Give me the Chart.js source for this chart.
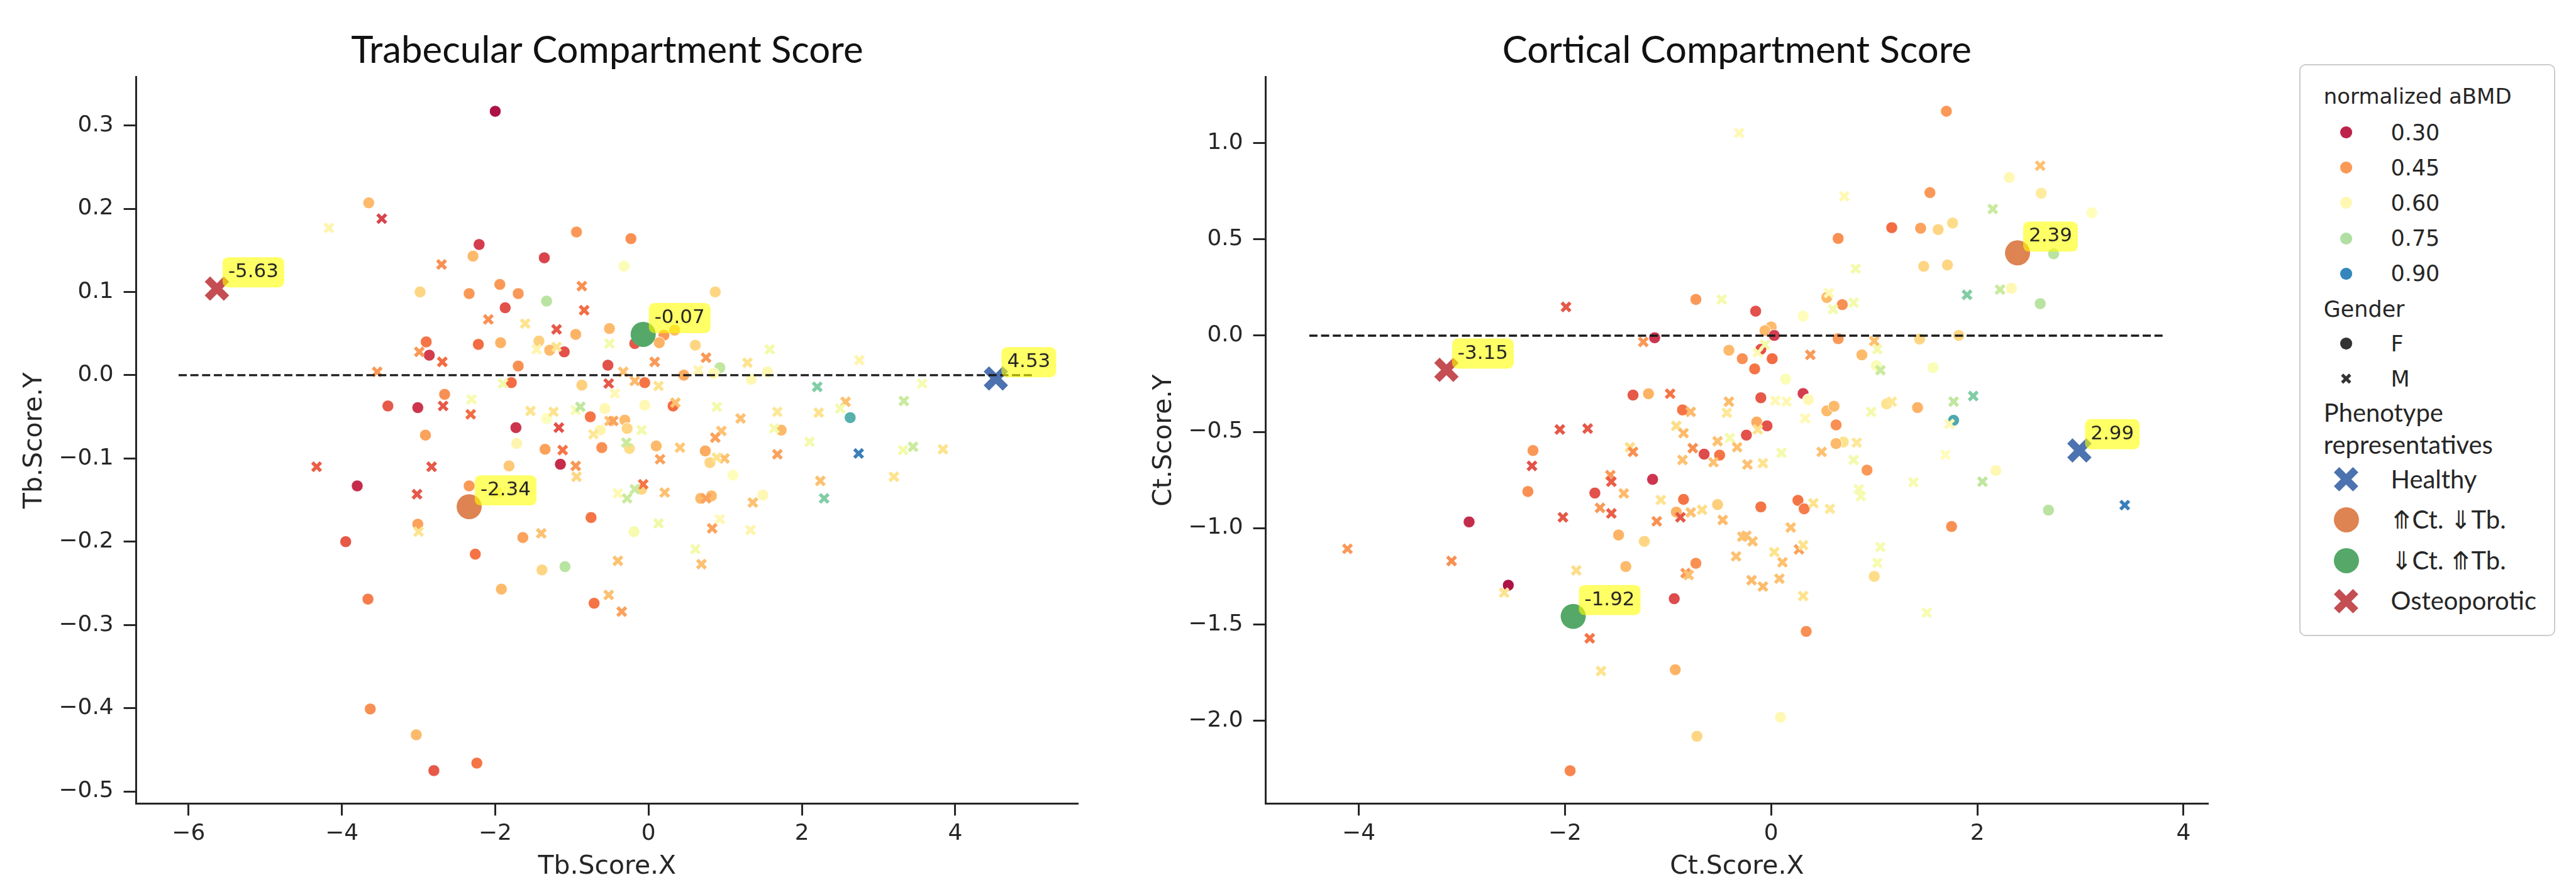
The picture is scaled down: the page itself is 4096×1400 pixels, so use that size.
<!DOCTYPE html>
<html>
<head>
<meta charset="utf-8">
<script src="https://cdn.jsdelivr.net/npm/chart.js@4.4.0/dist/chart.umd.min.js"></script>
<style>
  html, body { margin: 0; padding: 0; background: #fff; overflow: hidden; }
  #wrap { position: relative; width: 4096px; height: 1400px; }
  canvas { position: absolute; top: 0; }
  .lg { position: absolute; white-space: nowrap; line-height: 1; color: #262626; transform: translateY(-50%); }
</style>
</head>
<body>
<div id="wrap">
  <canvas id="tb"></canvas>
  <canvas id="ct"></canvas>
  <div id="legend"></div>
</div>
<script>
// reference is 4104x1403, window is 4096x1400
const S = 4096 / 4104;
const px = v => v * S;
const ink = '#262626';

// ---------- Trabecular panel ----------
// women (circles)
const tbFx = [-2.00,-3.65,-2.21,-2.29,-2.98,-2.34,-1.94,-1.70,-1.87,-1.36,
  -0.94,-1.33,-0.95,-0.51,-2.90,-2.86,-2.22,-1.93,-1.43,-1.29,
  -1.10,-1.70,-0.53,-1.79,-0.87,-2.66,-3.40,-3.01,-1.33,-0.76,
  -0.57,-1.73,-1.72,-2.91,-1.35,-1.15,-0.63,-0.61,-1.82,-3.80,
  -2.34,-3.01,-3.95,-0.75,-1.64,-2.26,-1.39,-1.09,-1.92,-0.71,
  -3.66,-3.63,-3.03,-2.80,-2.24,-0.23,-0.32,0.87,0.20,0.34,
  0.14,-0.18,0.61,0.93,0.85,1.55,1.34,0.46,-0.05,-0.05,
  0.32,2.63,-0.31,-0.28,1.73,-0.25,0.10,0.74,0.80,1.10,
  -0.09,0.68,0.82,1.49,-0.19];
const tbFy = [0.317,0.207,0.157,0.143,0.100,0.098,0.109,0.098,0.081,0.141,
  0.172,0.089,0.049,0.056,0.040,0.024,0.037,0.039,0.041,0.030,
  0.028,0.011,0.012,-0.009,-0.012,-0.023,-0.037,-0.039,-0.052,-0.050,
  -0.040,-0.063,-0.082,-0.072,-0.089,-0.107,-0.066,-0.087,-0.109,-0.133,
  -0.133,-0.179,-0.200,-0.171,-0.195,-0.215,-0.234,-0.230,-0.257,-0.274,
  -0.269,-0.401,-0.432,-0.475,-0.466,0.164,0.131,0.100,0.048,0.054,
  0.039,0.038,0.036,0.009,0.002,0.004,-0.005,0.000,-0.009,-0.036,
  -0.037,-0.051,-0.054,-0.064,-0.066,-0.088,-0.085,-0.091,-0.105,-0.120,
  -0.137,-0.148,-0.145,-0.144,-0.188];
const tbFbmd = [0.28,0.49,0.33,0.49,0.53,0.45,0.45,0.45,0.36,0.34,
  0.45,0.74,0.48,0.49,0.41,0.33,0.40,0.48,0.52,0.49,
  0.36,0.44,0.36,0.40,0.52,0.44,0.37,0.32,0.62,0.41,
  0.60,0.32,0.59,0.46,0.46,0.31,0.59,0.44,0.51,0.31,
  0.45,0.46,0.37,0.41,0.46,0.41,0.53,0.74,0.49,0.41,
  0.42,0.44,0.49,0.37,0.41,0.44,0.63,0.53,0.45,0.49,
  0.48,0.37,0.53,0.73,0.60,0.60,0.60,0.47,0.41,0.60,
  0.40,0.85,0.49,0.53,0.49,0.54,0.49,0.47,0.53,0.62,
  0.53,0.49,0.49,0.60,0.64];
// men (crosses)
const tbMx = [-4.17,-3.48,-2.70,-0.87,-0.84,-2.09,-1.61,-1.20,-0.51,-2.99,
  -2.69,-3.54,-1.46,-1.20,-1.90,-0.52,-2.68,-2.31,-2.32,-1.54,
  -1.24,-0.95,-0.89,-0.51,-1.17,-1.12,-0.95,-0.94,-0.72,-4.33,
  -2.83,-3.02,-1.98,-3.00,-1.40,-0.52,0.08,0.75,-0.33,0.65,
  1.29,1.58,-0.18,0.13,-0.44,0.35,0.89,2.20,2.75,3.57,
  2.57,2.50,3.33,2.22,1.68,1.20,-0.46,-0.09,0.95,1.64,
  0.87,-0.29,0.41,2.10,2.74,3.32,3.45,3.84,0.99,0.89,
  0.15,1.68,3.20,2.24,2.29,-0.07,-0.18,-0.40,-0.28,0.21,
  0.75,1.36,0.13,0.83,0.93,1.33,-0.40,0.61,0.69,-0.35];
const tbMy = [0.177,0.188,0.133,0.107,0.078,0.067,0.062,0.055,0.038,0.028,
  0.016,0.004,0.031,0.034,-0.010,-0.010,-0.037,-0.029,-0.047,-0.043,
  -0.044,-0.042,-0.038,-0.055,-0.063,-0.090,-0.109,-0.122,-0.071,-0.110,
  -0.110,-0.143,-0.141,-0.188,-0.190,-0.264,0.016,0.021,0.004,0.006,
  0.015,0.031,-0.007,-0.013,-0.022,-0.033,-0.038,-0.014,0.018,-0.010,
  -0.032,-0.040,-0.031,-0.045,-0.044,-0.052,-0.055,-0.066,-0.067,-0.064,
  -0.075,-0.081,-0.087,-0.080,-0.094,-0.090,-0.086,-0.089,-0.100,-0.099,
  -0.101,-0.095,-0.122,-0.127,-0.148,-0.131,-0.137,-0.142,-0.148,-0.141,
  -0.148,-0.153,-0.178,-0.184,-0.173,-0.186,-0.223,-0.209,-0.227,-0.284];
const tbMbmd = [0.59,0.34,0.44,0.44,0.40,0.44,0.55,0.37,0.65,0.45,
  0.40,0.45,0.59,0.55,0.65,0.37,0.37,0.64,0.40,0.55,
  0.55,0.64,0.73,0.50,0.36,0.41,0.45,0.53,0.56,0.38,
  0.37,0.37,0.55,0.55,0.50,0.50,0.45,0.45,0.50,0.59,
  0.55,0.65,0.49,0.55,0.60,0.50,0.65,0.80,0.59,0.64,
  0.50,0.65,0.72,0.55,0.56,0.50,0.46,0.65,0.50,0.65,
  0.46,0.72,0.51,0.65,0.91,0.65,0.72,0.55,0.50,0.55,
  0.46,0.46,0.55,0.50,0.80,0.41,0.72,0.60,0.72,0.50,
  0.46,0.50,0.66,0.46,0.60,0.59,0.50,0.65,0.50,0.46];

// ---------- Cortical panel ----------
const ctFx = [-0.73,-1.13,-0.41,-0.28,-1.34,-1.19,-0.86,-0.65,-0.50,-2.31,
  -1.15,-1.71,-2.36,-0.85,-0.92,-0.52,-2.93,-1.48,-1.23,-0.73,
  -1.41,-2.55,-0.94,-0.93,-0.72,-1.95,1.70,2.31,2.62,3.11,
  1.54,1.17,1.45,1.62,1.76,0.65,2.74,1.48,1.71,2.33,
  2.61,-0.15,0.31,0.54,0.69,0.00,-0.06,0.03,0.65,1.44,
  1.82,-0.10,0.01,-0.16,0.88,1.02,1.57,0.14,-0.10,0.31,
  0.36,0.54,0.61,0.63,1.12,1.42,1.77,-0.14,-0.04,-0.24,
  0.70,0.63,0.93,2.18,-0.10,0.26,0.32,2.69,1.75,1.00,
  0.34,0.09];
const ctFy = [0.188,-0.011,-0.076,-0.120,-0.309,-0.302,-0.386,-0.616,-0.621,-0.597,
  -0.747,-0.818,-0.810,-0.851,-0.917,-0.878,-0.968,-1.036,-1.069,-1.183,
  -1.200,-1.297,-1.367,-1.736,-2.082,-2.261,1.166,0.822,0.740,0.638,
  0.743,0.561,0.558,0.551,0.585,0.505,0.425,0.360,0.367,0.246,
  0.166,0.127,0.101,0.198,0.161,0.045,0.026,0.001,-0.016,-0.018,
  0.001,-0.071,-0.120,-0.173,-0.100,-0.156,-0.166,-0.226,-0.323,-0.301,
  -0.333,-0.391,-0.367,-0.464,-0.355,-0.374,-0.440,-0.449,-0.469,-0.517,
  -0.553,-0.561,-0.699,-0.701,-0.890,-0.856,-0.900,-0.907,-0.992,-1.251,
  -1.537,-1.983];
const ctFbmd = [0.45,0.32,0.49,0.44,0.37,0.48,0.41,0.35,0.41,0.45,
  0.32,0.36,0.44,0.41,0.48,0.52,0.31,0.48,0.53,0.44,
  0.49,0.28,0.35,0.48,0.53,0.43,0.45,0.60,0.57,0.61,
  0.45,0.40,0.46,0.53,0.54,0.44,0.74,0.53,0.53,0.60,
  0.74,0.36,0.61,0.49,0.44,0.49,0.49,0.33,0.45,0.53,
  0.53,0.36,0.40,0.41,0.49,0.63,0.63,0.63,0.37,0.33,
  0.60,0.49,0.49,0.44,0.55,0.48,0.86,0.47,0.36,0.36,
  0.55,0.49,0.45,0.60,0.41,0.41,0.42,0.74,0.44,0.54,
  0.44,0.60];
const ctMx = [-0.31,-0.48,-1.99,-1.24,-0.98,-0.78,-0.41,-0.43,-0.92,-0.85,
  -0.76,-0.52,-0.40,-0.33,-0.56,-0.86,-2.05,-1.78,-2.32,-1.37,
  -1.34,-1.56,-1.55,-1.43,-1.66,-1.55,-1.07,-0.88,-0.78,-0.67,
  -0.47,-1.11,-2.02,-4.11,-3.10,-0.83,-0.80,-0.34,-0.28,-1.89,
  -2.59,-1.76,-1.65,2.61,2.15,0.71,0.82,1.90,2.22,0.56,
  0.60,0.80,1.00,-0.06,-0.13,0.38,1.03,1.06,0.04,0.15,
  0.33,0.97,1.17,1.77,1.96,1.73,-0.13,0.83,0.49,0.10,
  0.80,-0.23,-0.08,1.69,2.05,1.38,0.85,0.87,0.41,0.57,
  3.43,0.19,-0.24,-0.18,0.03,0.27,0.31,0.11,1.06,1.03,
  -0.19,-0.08,0.08,0.31,1.51];
const ctMy = [1.053,0.188,0.149,-0.033,-0.302,-0.396,-0.343,-0.401,-0.469,-0.507,
  -0.585,-0.549,-0.532,-0.580,-0.658,-0.646,-0.488,-0.483,-0.677,-0.580,
  -0.604,-0.725,-0.759,-0.820,-0.895,-0.924,-0.854,-0.944,-0.919,-0.905,
  -0.958,-0.965,-0.944,-1.108,-1.171,-1.234,-1.244,-1.147,-1.045,-1.220,
  -1.336,-1.573,-1.743,0.883,0.658,0.723,0.348,0.212,0.239,0.222,
  0.137,0.171,-0.028,-0.047,-0.088,-0.100,-0.071,-0.180,-0.338,-0.343,
  -0.430,-0.396,-0.343,-0.343,-0.314,-0.459,-0.488,-0.556,-0.604,-0.609,
  -0.646,-0.670,-0.663,-0.619,-0.759,-0.762,-0.798,-0.835,-0.871,-0.900,
  -0.881,-0.997,-1.040,-1.069,-1.125,-1.111,-1.089,-1.178,-1.099,-1.181,
  -1.271,-1.304,-1.263,-1.353,-1.440];
const ctMbmd = [0.60,0.65,0.37,0.45,0.41,0.49,0.49,0.56,0.54,0.49,
  0.44,0.50,0.65,0.50,0.50,0.50,0.37,0.37,0.36,0.54,
  0.44,0.45,0.38,0.49,0.45,0.38,0.55,0.37,0.50,0.54,
  0.49,0.44,0.37,0.45,0.44,0.45,0.50,0.50,0.50,0.54,
  0.55,0.41,0.55,0.50,0.72,0.60,0.65,0.80,0.72,0.60,
  0.65,0.65,0.50,0.65,0.60,0.45,0.65,0.72,0.60,0.60,
  0.60,0.65,0.56,0.73,0.80,0.60,0.55,0.56,0.50,0.65,
  0.65,0.50,0.55,0.61,0.73,0.64,0.64,0.64,0.55,0.56,
  0.91,0.50,0.50,0.50,0.55,0.46,0.55,0.50,0.64,0.64,
  0.49,0.49,0.50,0.55,0.64];

// phenotype representatives
const phenoNames = ['Healthy', '\u290ACt. \u21D3Tb.', '\u21D3Ct. \u290ATb.', 'Osteoporotic'];
const phenoColors = ['#4c72b0', '#dd8452', '#55a868', '#c44e52'];
const phenoShapes = ['crossRot', 'circle', 'circle', 'crossRot'];
const tbPhenoX = [4.53, -2.34, -0.07, -5.63];
const tbPhenoY = [-0.004, -0.158, 0.049, 0.104];
const ctPhenoX = [2.99, 2.39, -1.92, -3.15];
const ctPhenoY = [-0.597, 0.430, -1.459, -0.178];

// zero reference lines
const tbDashX = [-6.13, 5.03];
const ctDashX = [-4.48, 3.81];

// ticks
const tbXTicks = [-6, -4, -2, 0, 2, 4];
const tbYTicks = [-0.5, -0.4, -0.3, -0.2, -0.1, 0.0, 0.1, 0.2, 0.3];
const ctXTicks = [-4, -2, 0, 2, 4];
const ctYTicks = [-2.0, -1.5, -1.0, -0.5, 0.0, 0.5, 1.0];

// legend
const bmdLegend = [0.30, 0.45, 0.60, 0.75, 0.90];
const genders = ['F', 'M'];

// hue normalisation of the Spectral palette
const bmdMin = 0.26, bmdMax = 0.97;
const spectral = ['#9e0142','#d53e4f','#f46d43','#fdae61','#fee08b','#ffffbf',
  '#e6f598','#abdda4','#66c2a5','#3288bd','#5e4fa2'];

function hex(h) { return [1, 3, 5].map(i => parseInt(h.substr(i, 2), 16)); }
function bmdColor(v) {
  let t = (v - bmdMin) / (bmdMax - bmdMin);
  t = Math.max(0, Math.min(1, t)) * 10;
  const i = Math.min(9, Math.floor(t)), f = t - i;
  const a = hex(spectral[i]), b = hex(spectral[i + 1]);
  const c = a.map((x, k) => Math.round(x + (b[k] - x) * f));
  return `rgb(${c[0]},${c[1]},${c[2]})`;
}

const fmtTick = (v, d) => (v < 0 ? '\u2212' : '') + Math.abs(v).toFixed(d);

// title + value tags
const panelDecor = {
  id: 'panelDecor',
  afterDatasetsDraw(chart, args, opts) {
    const ctx = chart.ctx, a = chart.chartArea;
    ctx.save();
    chart.data.datasets.forEach((ds, i) => {
      if (!ds.tag) return;
      const el = chart.getDatasetMeta(i).data[0];
      ctx.font = `${px(31)}px "DejaVu Sans"`;
      const h = px(48);
      const w = ctx.measureText(ds.tag).width + px(18);
      const bx = el.x + px(9), by = el.y - px(2) - h;
      ctx.fillStyle = 'rgba(255,255,0,0.6)';
      ctx.beginPath();
      ctx.roundRect(bx, by, w, h, px(9));
      ctx.fill();
      ctx.fillStyle = ink;
      ctx.textAlign = 'left';
      ctx.textBaseline = 'middle';
      ctx.fillText(ds.tag, bx + px(9), by + h / 2);
    });
    ctx.font = `${px(60)}px Lato`;
    ctx.fillStyle = '#111';
    ctx.textAlign = 'center';
    ctx.textBaseline = 'alphabetic';
    ctx.fillText(opts.text, (a.left + a.right) / 2, px(100));
    ctx.restore();
  }
};

function makePanel(id, p) {
  const canvas = document.getElementById(id);
  canvas.width = Math.round(px(p.canvasW));
  canvas.height = 1400;
  canvas.style.left = px(p.canvasLeft) + 'px';
  const pts = (xs, ys) => xs.map((x, i) => ({ x, y: ys[i] }));

  const datasets = [{
    type: 'line', label: 'zero', data: p.dashX.map(x => ({ x, y: 0 })),
    borderColor: '#1a1a1a', borderWidth: px(3.4), borderDash: [px(13), px(5.7)],
    pointRadius: 0, fill: false, order: 0
  }];
  phenoNames.forEach((name, i) => {
    const cross = phenoShapes[i] === 'crossRot';
    datasets.push({
      label: name, data: [{ x: p.phX[i], y: p.phY[i] }],
      tag: p.phX[i].toFixed(2),
      pointStyle: phenoShapes[i], pointRadius: cross ? px(21.5) : px(20),
      pointBackgroundColor: phenoColors[i], pointBorderColor: phenoColors[i],
      pointBorderWidth: cross ? px(12) : 0, order: 1
    });
  });
  datasets.push({
    label: 'M', data: pts(p.mX, p.mY), pointStyle: 'crossRot',
    pointRadius: px(9.6), pointBorderWidth: px(5.5),
    pointBorderColor: p.mB.map(bmdColor), pointBackgroundColor: p.mB.map(bmdColor), order: 2
  });
  datasets.push({
    label: 'F', data: pts(p.fX, p.fY), pointStyle: 'circle',
    pointRadius: px(9.3), pointBorderWidth: px(1), pointBorderColor: '#ffffff',
    pointBackgroundColor: p.fB.map(bmdColor), order: 3
  });

  const tickFont = { family: 'DejaVu Sans', size: px(36) };
  const titleFont = { family: 'DejaVu Sans', size: px(41), lineHeight: 0.8 };

  return new Chart(canvas, {
    type: 'scatter',
    data: { datasets },
    plugins: [panelDecor],
    options: {
      responsive: false, animation: false, devicePixelRatio: 1, events: [],
      layout: { padding: { left: 0, top: px(123), bottom: 0,
        right: px(p.canvasLeft + p.canvasW - p.areaRight) } },
      plugins: { legend: { display: false }, tooltip: { enabled: false },
        panelDecor: { text: p.title } },
      scales: {
        x: {
          type: 'linear', position: 'bottom', min: p.xMin, max: p.xMax, bounds: 'data',
          afterBuildTicks: s => { s.ticks = p.xTicks.map(v => ({ value: v })); },
          afterFit: s => { s.height = 1400 - px(1281); },
          ticks: { callback: v => fmtTick(v, 0), font: tickFont, color: ink,
            padding: px(8), maxRotation: 0, autoSkip: false },
          grid: { drawOnChartArea: false, drawTicks: true, tickLength: px(19),
            tickWidth: px(3), tickColor: ink },
          border: { display: true, color: ink, width: px(3) },
          title: { display: true, text: p.xTitle, color: ink, font: titleFont,
            padding: { top: 0, bottom: px(3.8) } }
        },
        y: {
          type: 'linear', position: 'left', min: p.yMin, max: p.yMax, bounds: 'data',
          afterBuildTicks: s => { s.ticks = p.yTicks.map(v => ({ value: v })); },
          afterFit: s => { s.width = px(p.areaLeft - p.canvasLeft); },
          ticks: { callback: v => fmtTick(v, 1), font: tickFont, color: ink,
            padding: px(16), autoSkip: false },
          grid: { drawOnChartArea: false, drawTicks: true, tickLength: px(20),
            tickWidth: px(3), tickColor: ink },
          border: { display: true, color: ink, width: px(3) },
          title: { display: true, text: p.yTitle, color: ink, font: titleFont,
            padding: { top: px(p.yTitlePad), bottom: 0 } }
        }
      }
    }
  });
}

makePanel('tb', {
  canvasLeft: 0, canvasW: 1790, areaLeft: 217, areaRight: 1717, yTitlePad: 38.6,
  xMin: -6.683, xMax: 5.602, yMin: -0.5147, yMax: 0.358,
  xTicks: tbXTicks, yTicks: tbYTicks,
  title: 'Trabecular Compartment Score', xTitle: 'Tb.Score.X', yTitle: 'Tb.Score.Y',
  fX: tbFx, fY: tbFy, fB: tbFbmd, mX: tbMx, mY: tbMy, mB: tbMbmd,
  phX: tbPhenoX, phY: tbPhenoY, dashX: tbDashX
});

makePanel('ct', {
  canvasLeft: 1790, canvasW: 1770, areaLeft: 2016, areaRight: 3517, yTitlePad: 47.6,
  xMin: -4.903, xMax: 4.239, yMin: -2.432, yMax: 1.343,
  xTicks: ctXTicks, yTicks: ctYTicks,
  title: 'Cortical Compartment Score', xTitle: 'Ct.Score.X', yTitle: 'Ct.Score.Y',
  fX: ctFx, fY: ctFy, fB: ctFbmd, mX: ctMx, mY: ctMy, mB: ctMbmd,
  phX: ctPhenoX, phY: ctPhenoY, dashX: ctDashX
});

// ---------- legend ----------
const legend = document.getElementById('legend');
function addBox(x, y, w, h) {
  const d = document.createElement('div');
  d.style.cssText = `position:absolute;left:${px(x)}px;top:${px(y)}px;width:${px(w)}px;height:${px(h)}px;` +
    `border:${px(3)}px solid #cccccc;border-radius:${px(10)}px;box-sizing:border-box;background:#fff;`;
  legend.appendChild(d);
}
function addText(txt, x, y, family, size) {
  const d = document.createElement('div');
  d.className = 'lg';
  d.textContent = txt;
  d.style.left = px(x) + 'px';
  d.style.top = px(y) + 'px';
  d.style.fontFamily = family;
  d.style.fontSize = px(size) + 'px';
  legend.appendChild(d);
}
function addMarker(shape, color, r, lw, cx, cy) {
  const s = px(2 * r + lw + 4), c = s / 2;
  const ns = 'http://www.w3.org/2000/svg';
  const svg = document.createElementNS(ns, 'svg');
  svg.setAttribute('width', s); svg.setAttribute('height', s);
  svg.style.cssText = `position:absolute;left:${px(cx) - c}px;top:${px(cy) - c}px;`;
  if (shape === 'circle') {
    const e = document.createElementNS(ns, 'circle');
    e.setAttribute('cx', c); e.setAttribute('cy', c); e.setAttribute('r', px(r));
    e.setAttribute('fill', color);
    svg.appendChild(e);
  } else {
    const a = px(r) * Math.SQRT1_2;
    [[-a, -a, a, a], [a, -a, -a, a]].forEach(q => {
      const l = document.createElementNS(ns, 'line');
      l.setAttribute('x1', c + q[0]); l.setAttribute('y1', c + q[1]);
      l.setAttribute('x2', c + q[2]); l.setAttribute('y2', c + q[3]);
      l.setAttribute('stroke', color); l.setAttribute('stroke-width', px(lw));
      svg.appendChild(l);
    });
  }
  legend.appendChild(svg);
}

addBox(3663, 102, 408, 912);
const mkX = 3738, txX = 3809, hdX = 3702;
addText('normalized aBMD', hdX, 154, 'DejaVu Sans', 34);
bmdLegend.forEach((v, i) => {
  const y = 211 + i * 56.3;
  addMarker('circle', bmdColor(v), 9.6, 0, mkX, y);
  addText(v.toFixed(2), txX, y, 'DejaVu Sans', 35);
});
addText('Gender', hdX, 493, 'DejaVu Sans', 35);
genders.forEach((g, i) => {
  const y = 548 + i * 56;
  if (g === 'F') addMarker('circle', '#333333', 9.6, 0, mkX, y);
  else addMarker('cross', '#333333', 9, 5, mkX, y);
  addText(g, txX, y, 'DejaVu Sans', 35);
});
addText('Phenotype', hdX, 658, 'Lato', 40);
addText('representatives', hdX, 709, 'Lato', 40);
phenoNames.forEach((n, i) => {
  const y = 764 + i * 64.7;
  if (phenoShapes[i] === 'circle') addMarker('circle', phenoColors[i], 20, 0, mkX, y);
  else addMarker('cross', phenoColors[i], 21.5, 12, mkX, y);
  addText(n, txX, y, 'Lato', 40);
});
</script>
</body>
</html>
